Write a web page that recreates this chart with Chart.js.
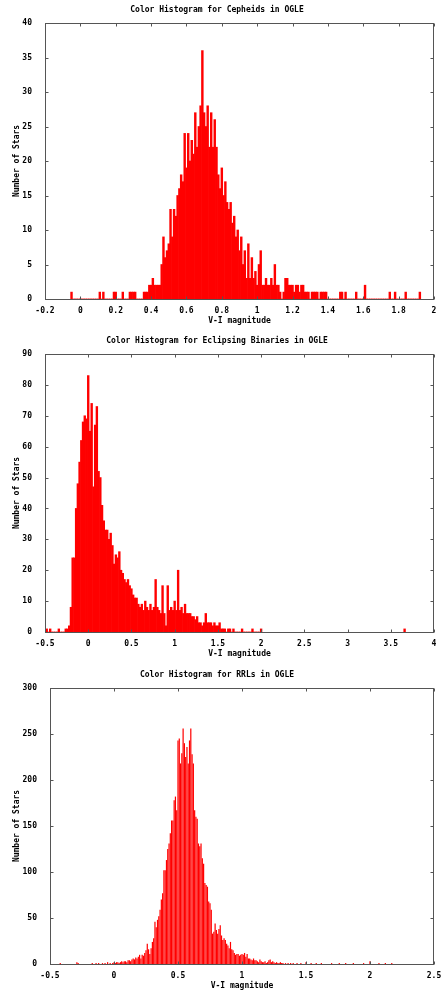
<!DOCTYPE html>
<html>
<head>
<meta charset="utf-8">
<title>Color Histograms in OGLE</title>
<script src="https://cdn.jsdelivr.net/npm/chart.js@4.4.0/dist/chart.umd.min.js"></script>
<style>
  html, body { margin: 0; padding: 0; background: #fff; }
  body { width: 441px; height: 996px; position: relative; overflow: hidden; }
  .panel { position: absolute; left: 0; width: 441px; }
</style>
</head>
<body>
<div class="panel" style="top:0px;height:326px"><canvas id="cephChart" width="441" height="326"></canvas></div>
<div class="panel" style="top:331px;height:328px"><canvas id="ebChart" width="441" height="328"></canvas></div>
<div class="panel" style="top:665px;height:326px"><canvas id="rrlChart" width="441" height="326"></canvas></div>
<script>
// Cepheids: bins of 0.01 starting at V-I = -0.05
const cephStart = -0.05;
const cephWidth = 0.01;
const cephCounts = [
  1, 0, 0, 0, 0,
  0, 0, 0, 0, 0, 0, 0, 0, 0, 0,
  0, 1, 0, 1, 0, 0, 0, 0, 0, 1,
  1, 0, 0, 0, 1, 0, 0, 0, 1, 1,
  1, 1, 0, 0, 0, 0, 1, 1, 1, 2,
  2, 3, 2, 2, 2, 2, 5, 9, 6, 7,
  8, 13, 9, 13, 12, 15, 16, 18, 17, 24,
  19, 24, 20, 23, 21, 27, 22, 25, 28, 36,
  27, 25, 28, 22, 27, 22, 26, 22, 18, 16,
  19, 15, 17, 14, 13, 14, 11, 12, 9, 10,
  7, 9, 5, 7, 3, 8, 3, 6, 3, 4,
  2, 5, 7, 2, 2, 3, 2, 2, 3, 2,
  5, 2, 2, 1, 0, 1, 3, 3, 2, 2,
  2, 1, 2, 2, 1, 2, 2, 1, 1, 1,
  0, 1, 1, 1, 1, 0, 1, 1, 1, 1,
  0, 0, 0, 0, 0, 0, 0, 1, 1, 0,
  1, 0, 0, 0, 0, 0, 1, 0, 0, 0,
  0, 2, 0, 0, 0, 0, 0, 0, 0, 0,
  0, 0, 0, 0, 0, 1, 0, 0, 1, 0,
  0, 0, 0, 0, 1, 0, 0, 0, 0, 0,
  0, 0, 1
];
const cephExtraX = [];
const cephExtraN = [];

// Eclipsing binaries: bins of 0.02 starting at V-I = -0.48
const ebStart = -0.48;
const ebWidth = 0.02;
const ebCounts = [
  1, 0, 1, 0, 0, 0, 0, 1, 0, 0,
  0, 1, 1, 2, 8, 24, 24, 40, 48, 55,
  62, 68, 70, 69, 83, 65, 74, 47, 67, 73,
  52, 50, 41, 36, 33, 33, 30, 32, 28, 22,
  25, 24, 26, 20, 19, 17, 16, 17, 15, 14,
  12, 11, 11, 9, 8, 9, 7, 10, 8, 7,
  9, 7, 8, 17, 8, 7, 6, 15, 6, 2,
  15, 7, 8, 7, 10, 7, 20, 7, 8, 6,
  9, 6, 6, 6, 5, 5, 4, 5, 3, 3,
  2, 3, 6, 3, 3, 3, 2, 3, 2, 2,
  3, 1, 1, 1, 0, 1, 1, 0, 1, 0,
  0, 0, 0, 1, 0, 0, 0, 0, 0, 1,
  0, 0, 0, 0, 1
];
const ebExtraX = [3.66];
const ebExtraN = [1];

// RR Lyrae: bins of 0.01 starting at V-I = 0.00, plus sparse tails
const rrlStart = 0.0;
const rrlWidth = 0.01;
const rrlCounts = [
  2, 1, 2, 2, 1, 2, 3, 2, 3, 3,
  2, 4, 4, 3, 5, 6, 5, 7, 6, 8,
  10, 6, 10, 9, 12, 15, 22, 16, 11, 17,
  24, 28, 46, 40, 48, 52, 59, 70, 77, 102,
  102, 113, 125, 131, 142, 156, 156, 178, 182, 167,
  243, 245, 218, 229, 256, 240, 225, 236, 218, 243,
  256, 228, 218, 167, 160, 158, 131, 128, 131, 115,
  109, 88, 86, 84, 68, 66, 59, 33, 35, 44,
  37, 33, 38, 42, 31, 26, 28, 26, 22, 20,
  17, 24, 16, 15, 12, 10, 11, 11, 9, 10,
  11, 10, 12, 8, 11, 6, 6, 5, 4, 6,
  4, 4, 3, 2, 5, 3, 2, 2, 3, 1,
  2, 4, 5, 2, 3, 2, 1, 2, 1, 1,
  2, 1, 1, 0, 1, 0, 1, 0, 1, 0,
  1
];
const rrlExtraX = [-0.42, -0.29, -0.28, -0.17, -0.14, -0.12, -0.09, -0.07, -0.05, -0.03, -0.01,
                   1.43, 1.46, 1.50, 1.54, 1.58, 1.62, 1.70, 1.76, 1.81, 1.87, 1.95, 2.00, 2.07, 2.12, 2.17];
const rrlExtraN = [1, 2, 1, 1, 1, 1, 1, 1, 2, 1, 1,
                   1, 1, 2, 1, 1, 1, 1, 1, 1, 1, 1, 3, 1, 1, 1];

const TICK_FONT = { family: 'DejaVu Sans Mono', size: 8, weight: 'bold' };

// gnuplot style box: frame round the plot and ticks pointing inward
const gnuplotFrame = {
  id: 'gnuplotFrame',
  afterDatasetsDraw(chart) {
    const { ctx, chartArea: a, scales: { x, y } } = chart;
    const L = Math.round(a.left) + 0.5, R = Math.round(a.right) - 0.5;
    const T = Math.round(a.top) + 0.5, B = Math.round(a.bottom) + 0.5;
    ctx.save();
    ctx.strokeStyle = '#555';
    ctx.lineWidth = 1;
    ctx.beginPath();
    x.ticks.forEach(t => {
      const px = Math.round(x.getPixelForValue(t.value)) + 0.5;
      ctx.moveTo(px, B); ctx.lineTo(px, B - 3);
      ctx.moveTo(px, T); ctx.lineTo(px, T + 3);
    });
    y.ticks.forEach(t => {
      const py = Math.round(y.getPixelForValue(t.value)) + 0.5;
      ctx.moveTo(L, py); ctx.lineTo(L + 3, py);
      ctx.moveTo(R, py); ctx.lineTo(R - 3, py);
    });
    ctx.stroke();
    ctx.strokeRect(L, T, R - L, B - T);
    ctx.restore();
  }
};

function toPoints(start, width, counts, extraX, extraN) {
  const pts = counts.map((n, i) => ({ x: +(start + i * width).toFixed(3), y: n }));
  extraX.forEach((v, i) => pts.push({ x: v, y: extraN[i] }));
  return pts;
}

function drawHistogram(canvasId, title, points, xMin, xMax, xStep, yMax, yStep, yAxisWidth, barPct) {
  const ctx = document.getElementById(canvasId).getContext('2d');
  return new Chart(ctx, {
    type: 'bar',
    data: {
      datasets: [{
        data: points,
        backgroundColor: '#ff0000',
        borderWidth: 0,
        barPercentage: barPct,
        categoryPercentage: 1
      }]
    },
    options: {
      responsive: false,
      animation: false,
      devicePixelRatio: 1,
      layout: { padding: { left: 0, right: 7, top: 0, bottom: 0 } },
      plugins: {
        legend: { display: false },
        tooltip: { enabled: false },
        title: {
          display: true, text: title, color: '#000', font: TICK_FONT,
          padding: { top: 5, bottom: 8.4 }
        }
      },
      scales: {
        x: {
          type: 'linear', min: xMin, max: xMax, offset: false,
          grid: { display: false }, border: { display: false },
          ticks: {
            stepSize: xStep, autoSkip: false, maxRotation: 0, padding: -1,
            color: '#000', font: TICK_FONT,
            callback: v => String(+v.toFixed(2))
          },
          title: { display: true, text: 'V-I magnitude', color: '#000', font: TICK_FONT, padding: { top: 2, bottom: 0 } },
          afterFit: s => { s.height = 27; }
        },
        y: {
          min: 0, max: yMax,
          grid: { display: false }, border: { display: false },
          ticks: { stepSize: yStep, padding: 5, color: '#000', font: TICK_FONT },
          title: { display: true, text: 'Number of Stars', color: '#000', font: TICK_FONT, padding: { top: 12, bottom: 0 } },
          afterFit: s => { s.width = yAxisWidth; }
        }
      }
    },
    plugins: [gnuplotFrame]
  });
}

document.addEventListener('DOMContentLoaded', () => {
  drawHistogram('cephChart', 'Color Histogram for Cepheids in OGLE',
    toPoints(cephStart, cephWidth, cephCounts, cephExtraX, cephExtraN), -0.2, 2, 0.2, 40, 5, 45, 1);
  drawHistogram('ebChart', 'Color Histogram for Eclipsing Binaries in OGLE',
    toPoints(ebStart, ebWidth, ebCounts, ebExtraX, ebExtraN), -0.5, 4, 0.5, 90, 10, 45, 1);
  drawHistogram('rrlChart', 'Color Histogram for RRLs in OGLE',
    toPoints(rrlStart, rrlWidth, rrlCounts, rrlExtraX, rrlExtraN), -0.5, 2.5, 0.5, 300, 50, 50, 0.95);
});
</script>
</body>
</html>
